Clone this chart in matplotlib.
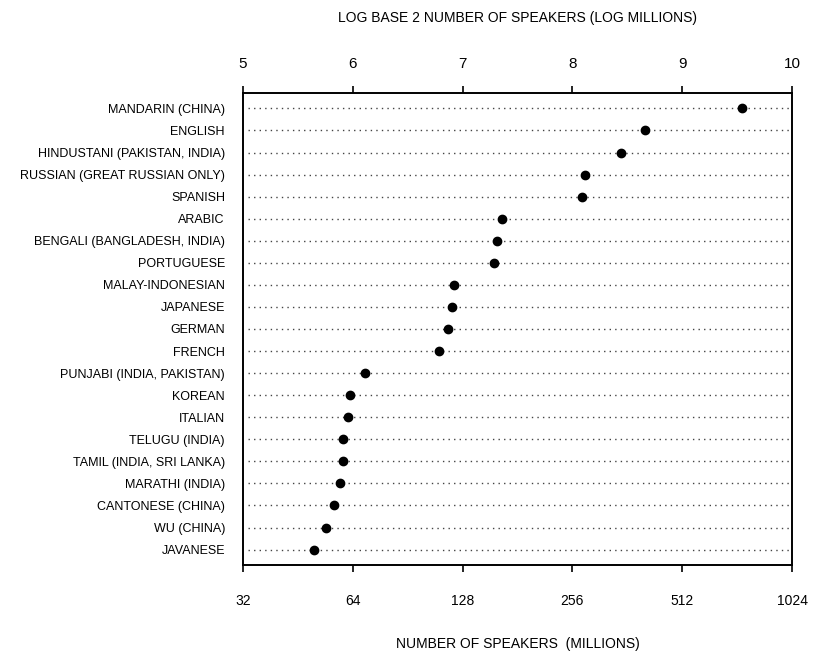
import numpy as np
import matplotlib.pyplot as plt

plt.rcParams['font.family'] = ['Liberation Sans', 'DejaVu Sans']

# languages, top to bottom
languages = ['MANDARIN (CHINA)', 'ENGLISH', 'HINDUSTANI (PAKISTAN, INDIA)',
             'RUSSIAN (GREAT RUSSIAN ONLY)', 'SPANISH', 'ARABIC',
             'BENGALI (BANGLADESH, INDIA)', 'PORTUGUESE', 'MALAY-INDONESIAN',
             'JAPANESE', 'GERMAN', 'FRENCH', 'PUNJABI (INDIA, PAKISTAN)',
             'KOREAN', 'ITALIAN', 'TELUGU (INDIA)', 'TAMIL (INDIA, SRI LANKA)',
             'MARATHI (INDIA)', 'CANTONESE (CHINA)', 'WU (CHINA)', 'JAVANESE']
# speakers in millions
speakers = [748, 406, 349, 278, 272, 164, 159, 156, 121, 120, 117, 110,
            69, 63, 62, 60, 60, 59, 57, 54, 50]

bottom_ticks = [32, 64, 128, 256, 512, 1024]
top_ticks = [5, 6, 7, 8, 9, 10]

fig = plt.figure(figsize=(8.25, 6.52), dpi=100)
ax = fig.add_axes([0.2945, 0.1334, 0.6655, 0.724])

ypos = np.arange(len(languages))
ax.set_xscale('log', base=2)
ax.set_xlim(bottom_ticks[0], bottom_ticks[-1])
ax.set_ylim(len(languages) - 0.3, -0.7)

# dotted guide lines across the full width
for y in ypos:
    ax.plot([33, 1020], [y, y], color='#444444', lw=1.0,
            linestyle=(0, (1, 3)), zorder=1)
ax.plot(speakers, ypos, 'o', color='black', markersize=6, zorder=3)

ax.set_yticks(ypos)
ax.set_yticklabels(languages, fontsize=9)
ax.tick_params(axis='y', length=0, pad=13)

ax.set_xticks(bottom_ticks)
ax.set_xticklabels([str(t) for t in bottom_ticks], fontsize=10)
ax.xaxis.set_minor_locator(plt.NullLocator())
ax.tick_params(axis='x', direction='out', length=5, width=1.2, pad=16)
ax.set_xlabel('NUMBER OF SPEAKERS  (MILLIONS)', fontsize=10, labelpad=21)

# top axis in log2 units
top = ax.twiny()
top.set_xlim(top_ticks[0], top_ticks[-1])
top.set_xticks(top_ticks)
top.set_xticklabels([str(t) for t in top_ticks], fontsize=11)
top.tick_params(axis='x', direction='out', length=5, width=1.2, pad=11)
top.set_xlabel('LOG BASE 2 NUMBER OF SPEAKERS (LOG MILLIONS)', fontsize=10, labelpad=25)
top.yaxis.set_visible(False)

for s in ax.spines.values():
    s.set_linewidth(1.2)
for s in top.spines.values():
    s.set_linewidth(1.2)

fig.savefig('out.png', dpi=100)
